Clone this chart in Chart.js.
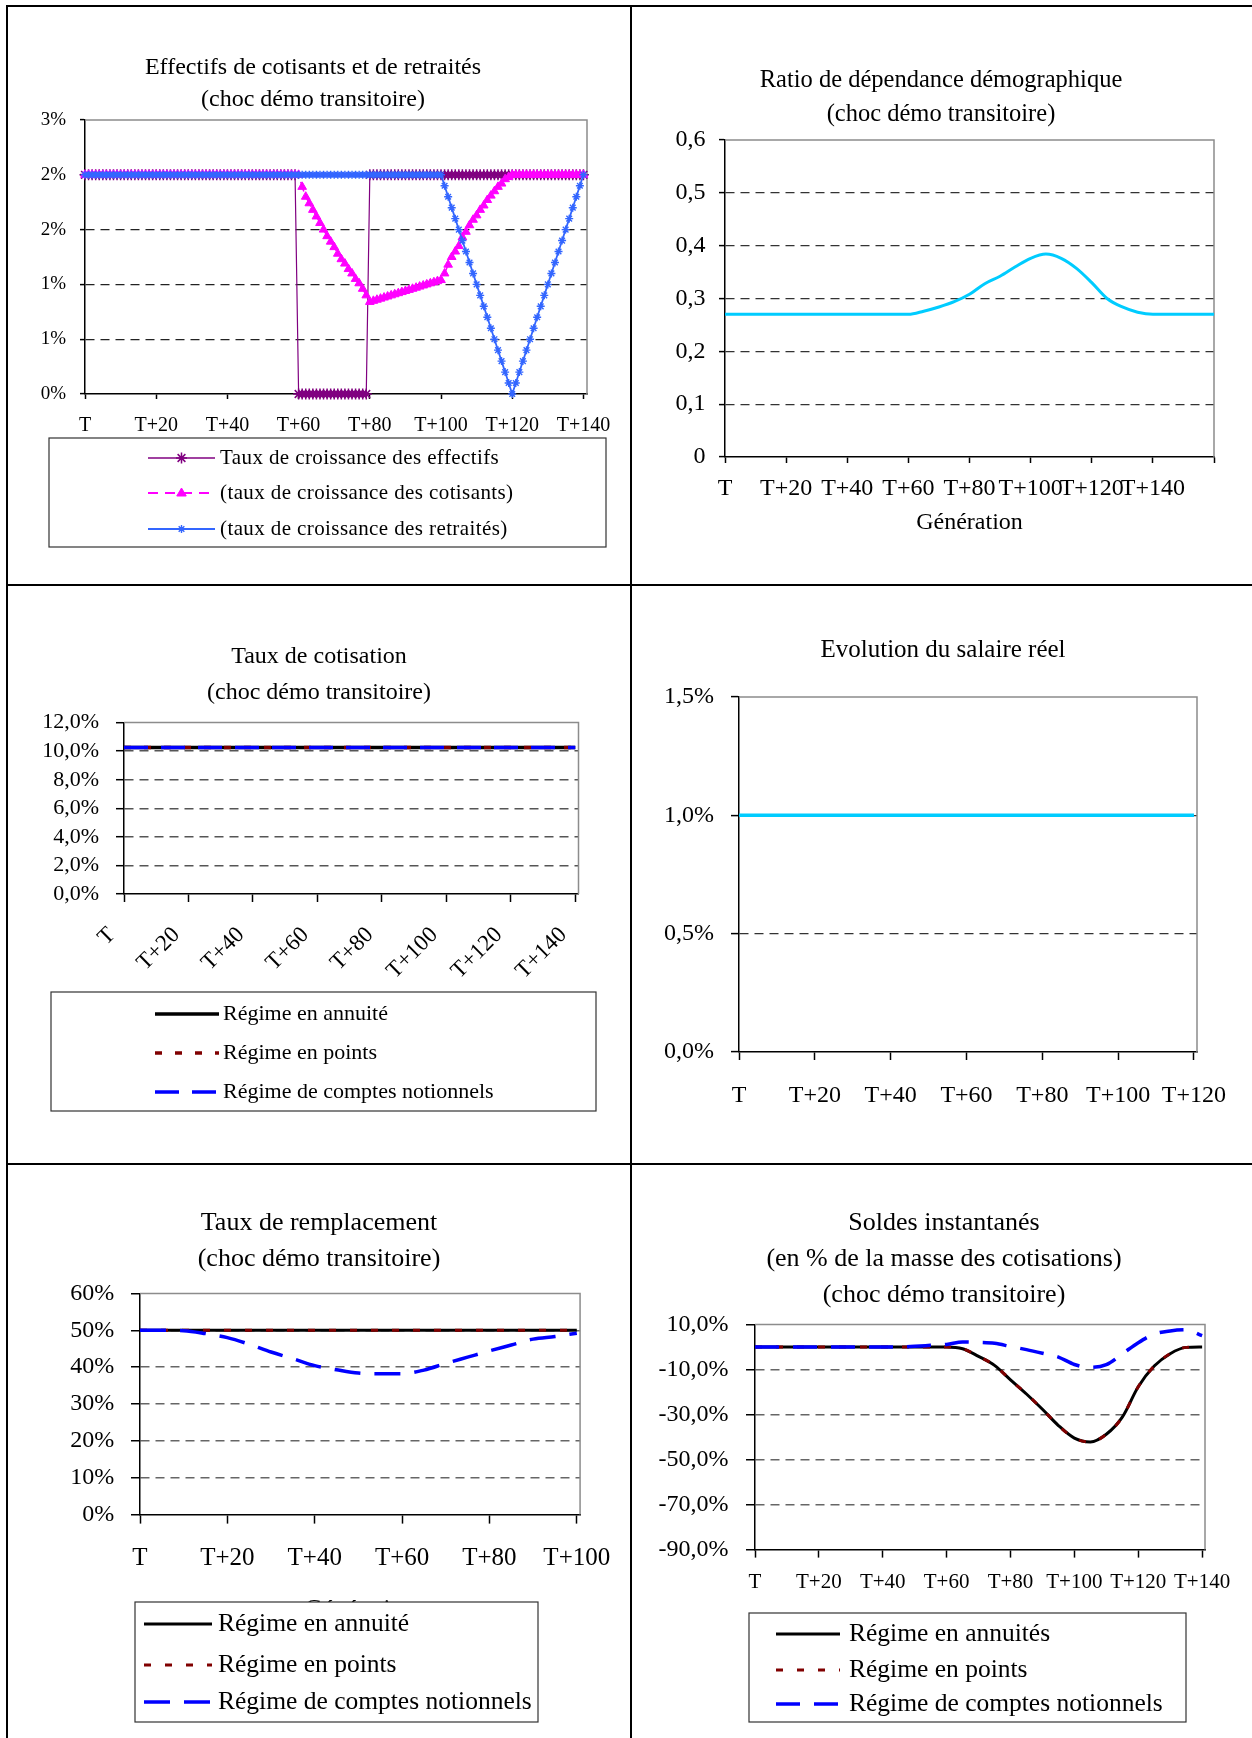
<!DOCTYPE html>
<html lang="fr">
<head>
<meta charset="utf-8">
<title>Choc démographique transitoire</title>
<script src="https://cdn.jsdelivr.net/npm/chart.js@4.4.1/dist/chart.umd.min.js"></script>
<style>
  html, body { margin: 0; padding: 0; background: #fff; }
  #page { position: relative; width: 1252px; height: 1738px; overflow: hidden; background: #fff; }
  .rule { position: absolute; background: #000; }
  canvas { position: absolute; }
</style>
</head>
<body>
<div id="page">
  <div class="rule" style="left:6px;top:5px;width:1246px;height:2px"></div>
  <div class="rule" style="left:6px;top:5px;width:2px;height:1733px"></div>
  <div class="rule" style="left:630px;top:5px;width:2px;height:1733px"></div>
  <div class="rule" style="left:6px;top:584px;width:1246px;height:2px"></div>
  <div class="rule" style="left:6px;top:1163px;width:1246px;height:2px"></div>
  <canvas id="effectifsChart" width="622" height="577" style="left:8px;top:7px"></canvas>
  <canvas id="ratioChart" width="620" height="577" style="left:632px;top:7px"></canvas>
  <canvas id="cotisationChart" width="622" height="577" style="left:8px;top:586px"></canvas>
  <canvas id="salaireChart" width="620" height="577" style="left:632px;top:586px"></canvas>
  <canvas id="remplacementChart" width="622" height="573" style="left:8px;top:1165px"></canvas>
  <canvas id="soldesChart" width="620" height="573" style="left:632px;top:1165px"></canvas>
</div>
<script>
// ---- data ----

// Effectifs : one value per generation, T .. T+140 (en %)
const effectifs = [
  2, 2, 2, 2, 2, 2, 2, 2, 2, 2, 2, 2, 2, 2, 2, 2, 2, 2, 2, 2,
  2, 2, 2, 2, 2, 2, 2, 2, 2, 2, 2, 2, 2, 2, 2, 2, 2, 2, 2, 2,
  2, 2, 2, 2, 2, 2, 2, 2, 2, 2, 2, 2, 2, 2, 2, 2, 2, 2, 2, 2,
  0, 0, 0, 0, 0, 0, 0, 0, 0, 0, 0, 0, 0, 0, 0, 0, 0, 0, 0, 0,
  2, 2, 2, 2, 2, 2, 2, 2, 2, 2, 2, 2, 2, 2, 2, 2, 2, 2, 2, 2,
  2, 2, 2, 2, 2, 2, 2, 2, 2, 2, 2, 2, 2, 2, 2, 2, 2, 2, 2, 2,
  2, 2, 2, 2, 2, 2, 2, 2, 2, 2, 2, 2, 2, 2, 2, 2, 2, 2, 2, 2,
  2
];
const cotisants = [
  2, 2, 2, 2, 2, 2, 2, 2, 2, 2, 2, 2, 2, 2, 2, 2, 2, 2, 2, 2,
  2, 2, 2, 2, 2, 2, 2, 2, 2, 2, 2, 2, 2, 2, 2, 2, 2, 2, 2, 2,
  2, 2, 2, 2, 2, 2, 2, 2, 2, 2, 2, 2, 2, 2, 2, 2, 2, 2, 2, 2,
  2, 1.89, 1.80, 1.74, 1.68, 1.62, 1.56, 1.50, 1.44, 1.39, 1.34, 1.28, 1.23, 1.19, 1.14, 1.10, 1.05, 1.01, 0.96, 0.90,
  0.84, 0.85, 0.86, 0.87, 0.88, 0.89, 0.90, 0.91, 0.92, 0.93, 0.94, 0.95, 0.96, 0.97, 0.98, 0.99, 1.00, 1.01, 1.02, 1.03,
  1.04, 1.10, 1.18, 1.25, 1.30, 1.35, 1.43, 1.48, 1.54, 1.59, 1.63, 1.68, 1.72, 1.77, 1.81, 1.85, 1.89, 1.92, 1.96, 1.98,
  2, 2, 2, 2, 2, 2, 2, 2, 2, 2, 2, 2, 2, 2, 2, 2, 2, 2, 2, 2,
  2
];
const retraites = [
  2, 2, 2, 2, 2, 2, 2, 2, 2, 2, 2, 2, 2, 2, 2, 2, 2, 2, 2, 2,
  2, 2, 2, 2, 2, 2, 2, 2, 2, 2, 2, 2, 2, 2, 2, 2, 2, 2, 2, 2,
  2, 2, 2, 2, 2, 2, 2, 2, 2, 2, 2, 2, 2, 2, 2, 2, 2, 2, 2, 2,
  2, 2, 2, 2, 2, 2, 2, 2, 2, 2, 2, 2, 2, 2, 2, 2, 2, 2, 2, 2,
  2, 2, 2, 2, 2, 2, 2, 2, 2, 2, 2, 2, 2, 2, 2, 2, 2, 2, 2, 2,
  2, 1.9, 1.8, 1.7, 1.6, 1.5, 1.4, 1.3, 1.2, 1.1, 1.0, 0.9, 0.8, 0.7, 0.6, 0.5, 0.4, 0.3, 0.2, 0.1,
  0, 0.1, 0.2, 0.3, 0.4, 0.5, 0.6, 0.7, 0.8, 0.9, 1.0, 1.1, 1.2, 1.3, 1.4, 1.5, 1.6, 1.7, 1.8, 1.9,
  2
];
const gen1 = effectifs.map((v, i) => i);
const xLabels140 = ['T', 'T+20', 'T+40', 'T+60', 'T+80', 'T+100', 'T+120', 'T+140'];
const yLabels1 = ['0%', '1%', '1%', '2%', '2%', '3%'];

// Ratio de dépendance
const gen2 = [0, 5, 10, 15, 20, 25, 30, 35, 40, 45, 50, 55, 60, 65, 70, 75, 80, 85, 90, 95, 100,
  105, 110, 115, 120, 125, 130, 135, 140, 145, 150, 155, 160];
const ratioDep = [0.27, 0.27, 0.27, 0.27, 0.27, 0.27, 0.27, 0.27, 0.27, 0.27, 0.27, 0.27, 0.27,
  0.276, 0.284, 0.294, 0.308, 0.328, 0.342, 0.360, 0.376, 0.384, 0.376, 0.357, 0.330, 0.300,
  0.284, 0.274, 0.270, 0.27, 0.27, 0.27, 0.27];
const xLabels2 = ['T', 'T+20', 'T+40', 'T+60', 'T+80', 'T+100', 'T+120', 'T+140', ''];
const yLabels2 = ['0', '0,1', '0,2', '0,3', '0,4', '0,5', '0,6'];

// Taux de cotisation (en %)
const gen3 = [0, 20, 40, 60, 80, 100, 120, 140];
const cotAnnuite = [10.25, 10.25, 10.25, 10.25, 10.25, 10.25, 10.25, 10.25];
const cotPoints = [10.25, 10.25, 10.25, 10.25, 10.25, 10.25, 10.25, 10.25];
const cotNotionnels = [10.25, 10.25, 10.25, 10.25, 10.25, 10.25, 10.25, 10.25];
const yLabels3 = ['0,0%', '2,0%', '4,0%', '6,0%', '8,0%', '10,0%', '12,0%'];

// Evolution du salaire réel (en %)
const gen4 = [0, 20, 40, 60, 80, 100, 120];
const salaireReel = [1, 1, 1, 1, 1, 1, 1];
const xLabels4 = ['T', 'T+20', 'T+40', 'T+60', 'T+80', 'T+100', 'T+120'];
const yLabels4 = ['0,0%', '0,5%', '1,0%', '1,5%'];

// Taux de remplacement (en %)
const gen5 = [0, 5, 10, 15, 20, 25, 30, 35, 40, 45, 50, 55, 60, 65, 70, 75, 80, 85, 90, 95, 100];
const rempAnnuite = [50, 50, 50, 50, 50, 50, 50, 50, 50, 50, 50, 50, 50, 50, 50, 50, 50, 50, 50, 50, 50];
const rempPoints = [50, 50, 50, 50, 50, 50, 50, 50, 50, 50, 50, 50, 50, 50, 50, 50, 50, 50, 50, 50, 50];
const rempNotionnels = [50, 50, 49.9, 49.1, 48.0, 46.2, 44.1, 42.3, 40.4, 39.3, 38.4, 38.2, 38.2,
  39.2, 41.0, 42.7, 44.4, 46.0, 47.6, 48.3, 49.2];
const xLabels5 = ['T', 'T+20', 'T+40', 'T+60', 'T+80', 'T+100'];
const yLabels5 = ['0%', '10%', '20%', '30%', '40%', '50%', '60%'];

// Soldes instantanés (en % de la masse des cotisations)
const gen6 = [0, 5, 10, 15, 20, 25, 30, 35, 40, 45, 50, 55, 60, 65, 70, 75, 80, 85, 90, 95, 100,
  105, 110, 115, 120, 125, 130, 135, 140];
const soldeAnnuites = [0, 0, 0, 0, 0, 0, 0, 0, 0, 0, 0, 0, 0,
  -0.8, -4.2, -8.2, -14.6, -20.9, -27.7, -34.9, -40.5, -42.2, -38.8, -31.2, -17.7, -8.5, -3.0, -0.2, 0];
const soldePoints = [0, 0, 0, 0, 0, 0, 0, 0, 0, 0, 0, 0, 0,
  -0.8, -4.2, -8.2, -14.6, -20.9, -27.7, -34.9, -40.5, -42.2, -38.8, -31.2, -17.7, -8.5, -3.0, -0.2, 0];
const soldeNotionnels = [0, 0, 0, 0, 0, 0, 0, 0, 0, 0,
  0.3, 0.7, 1.1, 2.2, 2.0, 1.6, 0.2, -1.2, -2.8, -4.5, -7.8, -9.1, -7.9, -3.1, 1.9, 5.7, 7.1, 7.6, 5.0];
const yLabels6 = ['-90,0%', '-70,0%', '-50,0%', '-30,0%', '-10,0%', '10,0%'];

// ---- drawing ----

const FONT = "'Liberation Serif', 'Times New Roman', serif";
Chart.defaults.font.family = FONT;
Chart.defaults.color = '#000';

// titles, legend boxes: positions inside each canvas
const decor = {
  effectifsChart: {
    title: { lines: ['Effectifs de cotisants et de retraités', '(choc démo transitoire)'], x: 305, y: 61, gap: 32.2, size: 24 },
    legend: { x: 41, y: 431, w: 557, h: 109, rows: [451, 486, 522], x1: 140, x2: 207, textX: 212, size: 21, spacing: '0.4px' }
  },
  ratioChart: {
    title: { lines: ['Ratio de dépendance démographique', '(choc démo transitoire)'], x: 309, y: 74, gap: 33.7, size: 24.5 }
  },
  cotisationChart: {
    title: { lines: ['Taux de cotisation', '(choc démo transitoire)'], x: 311, y: 71, gap: 35.3, size: 24 },
    legend: { x: 43, y: 406, w: 545, h: 119, rows: [428, 467, 506], x1: 147, x2: 211, textX: 215, size: 22 }
  },
  salaireChart: {
    title: { lines: ['Evolution du salaire réel'], x: 311, y: 64, gap: 0, size: 25 }
  },
  remplacementChart: {
    title: { lines: ['Taux de remplacement', '(choc démo transitoire)'], x: 311, y: 58, gap: 36.1, size: 26 },
    legend: { x: 127, y: 437, w: 403, h: 120, rows: [459, 500, 537], x1: 136, x2: 204, textX: 210, size: 25.5 }
  },
  soldesChart: {
    title: { lines: ['Soldes instantanés', '(en % de la masse des cotisations)', '(choc démo transitoire)'], x: 312, y: 58, gap: 36.1, size: 26 },
    legend: { x: 117, y: 448, w: 437, h: 109, rows: [469, 505, 539], x1: 144, x2: 208, textX: 217, size: 25.5 }
  }
};

function drawMarker(ctx, style, r, x, y) {
  ctx.beginPath();
  if (style === 'triangle') {
    ctx.moveTo(x, y - r);
    ctx.lineTo(x + r * 0.95, y + r * 0.6);
    ctx.lineTo(x - r * 0.95, y + r * 0.6);
    ctx.closePath();
    ctx.fill();
    ctx.stroke();
  } else {
    for (let a = 0; a < 4; a++) {
      const t = a * Math.PI / 4;
      ctx.moveTo(x - r * Math.cos(t), y - r * Math.sin(t));
      ctx.lineTo(x + r * Math.cos(t), y + r * Math.sin(t));
    }
    ctx.stroke();
  }
}

const chartTitle = {
  id: 'chartTitle',
  afterDraw(chart) {
    const t = decor[chart.canvas.id].title;
    const ctx = chart.ctx;
    ctx.save();
    ctx.fillStyle = '#000';
    ctx.font = t.size + 'px ' + FONT;
    ctx.textAlign = 'center';
    ctx.textBaseline = 'middle';
    t.lines.forEach((line, i) => ctx.fillText(line, t.x, t.y + i * t.gap));
    ctx.restore();
  }
};

// grey top/right border of the plot area
const plotFrame = {
  id: 'plotFrame',
  beforeDatasetsDraw(chart) {
    const { ctx, chartArea: a } = chart;
    ctx.save();
    ctx.strokeStyle = '#8c8c8c';
    ctx.lineWidth = 1.5;
    ctx.beginPath();
    ctx.moveTo(a.left, a.top);
    ctx.lineTo(a.right, a.top);
    ctx.lineTo(a.right, a.bottom);
    ctx.stroke();
    ctx.restore();
  }
};

const boxLegend = {
  id: 'boxLegend',
  afterDraw(chart) {
    const lg = decor[chart.canvas.id].legend;
    if (!lg) return;
    const ctx = chart.ctx;
    ctx.save();
    ctx.fillStyle = '#fff';
    ctx.fillRect(lg.x, lg.y, lg.w, lg.h);
    ctx.strokeStyle = '#333';
    ctx.lineWidth = 1.2;
    ctx.strokeRect(lg.x, lg.y, lg.w, lg.h);
    chart.data.datasets.forEach((ds, i) => {
      const y = lg.rows[i];
      ctx.save();
      ctx.strokeStyle = ds.borderColor;
      ctx.lineWidth = ds.legendWidth || ds.borderWidth;
      ctx.setLineDash(ds.borderDash || []);
      ctx.beginPath();
      ctx.moveTo(lg.x1, y);
      ctx.lineTo(lg.x2, y);
      ctx.stroke();
      ctx.restore();
      if (ds.pointRadius > 0) {
        ctx.save();
        ctx.fillStyle = ds.pointBackgroundColor;
        ctx.strokeStyle = ds.pointBorderColor;
        ctx.lineWidth = ds.pointBorderWidth;
        drawMarker(ctx, ds.pointStyle, ds.pointRadius, (lg.x1 + lg.x2) / 2, y);
        ctx.restore();
      }
      ctx.save();
      if (lg.spacing) ctx.letterSpacing = lg.spacing;
      ctx.fillStyle = '#000';
      ctx.font = lg.size + 'px ' + FONT;
      ctx.textBaseline = 'middle';
      ctx.textAlign = 'left';
      ctx.fillText(ds.label, lg.textX, y);
      ctx.restore();
    });
    ctx.restore();
  }
};

function pts(xs, ys) {
  return ys.map((y, i) => ({ x: xs[i], y: y }));
}

function makeChart(id, cfg) {
  const g = cfg.geom;
  const xo = cfg.x, yo = cfg.y;
  return new Chart(document.getElementById(id), {
    type: 'line',
    data: { datasets: cfg.datasets },
    options: {
      responsive: false,
      animation: false,
      events: [],
      layout: { padding: { top: g.top, right: g.w - g.right, left: 0, bottom: 0 } },
      elements: { point: { radius: 0 }, line: { borderCapStyle: 'butt' } },
      plugins: { legend: { display: false }, tooltip: { enabled: false }, title: { display: false } },
      scales: {
        x: {
          type: 'linear',
          min: 0,
          max: xo.max,
          afterFit: s => { s.height = g.h - g.bottom; },
          grid: { drawOnChartArea: false, drawTicks: true, tickLength: xo.tl, tickColor: '#000', tickWidth: 1.5, tickBorderDash: [] },
          border: { color: '#000', width: 1.5 },
          ticks: {
            stepSize: 20,
            includeBounds: false,
            autoSkip: false,
            maxRotation: xo.rot || 0,
            minRotation: xo.rot || 0,
            padding: xo.pad,
            labelOffset: xo.labelOffset || 0,
            font: { size: xo.font },
            color: '#000',
            callback: (v, i) => xo.labels[i]
          },
          title: xo.title
            ? { display: true, text: xo.title.text, color: '#000', font: { size: xo.title.size }, padding: { top: 0, bottom: xo.title.bottom } }
            : { display: false }
        },
        y: {
          min: yo.min,
          max: yo.max,
          afterFit: s => { s.width = g.left; },
          grid: {
            color: c => (c.tick && (c.tick.value === yo.min || c.tick.value === yo.max)) ? 'rgba(0,0,0,0)' : yo.gridColor,
            lineWidth: yo.gridWidth,
            drawTicks: true,
            tickLength: yo.tl,
            tickColor: '#000',
            tickWidth: 1.5,
            tickBorderDash: []
          },
          border: { color: '#000', width: 1.5, dash: [9, 6] },
          ticks: {
            stepSize: yo.step,
            autoSkip: false,
            padding: yo.pad,
            font: { size: yo.font },
            color: '#000',
            callback: (v, i) => yo.labels[i]
          }
        }
      }
    },
    plugins: [plotFrame, chartTitle, boxLegend]
  });
}

// 1. Effectifs de cotisants et de retraités
makeChart('effectifsChart', {
  geom: { left: 77, right: 579, top: 113, bottom: 387, w: 622, h: 577 },
  datasets: [
    {
      label: 'Taux de croissance des effectifs',
      data: pts(gen1, effectifs),
      borderColor: '#800080', borderWidth: 1.2, legendWidth: 1.6,
      pointStyle: 'star', pointRadius: 5.5, pointBorderWidth: 1.5,
      pointBorderColor: '#800080', pointBackgroundColor: '#800080',
      tension: 0, clip: false, order: 3
    },
    {
      label: '(taux de croissance des cotisants)',
      data: pts(gen1, cotisants),
      borderColor: '#ff00ff', borderWidth: 1.5, legendWidth: 2, borderDash: [10, 7],
      pointStyle: 'triangle', pointRadius: 5, pointBorderWidth: 1,
      pointBorderColor: '#ff00ff', pointBackgroundColor: '#ff00ff',
      tension: 0, clip: false, order: 2
    },
    {
      label: '(taux de croissance des retraités)',
      data: pts(gen1, retraites),
      borderColor: '#3366ff', borderWidth: 1.8, legendWidth: 2,
      pointStyle: 'star', pointRadius: 4, pointBorderWidth: 1.4,
      pointBorderColor: '#3366ff', pointBackgroundColor: '#3366ff',
      tension: 0, clip: false, order: 1
    }
  ],
  x: { max: 141, labels: xLabels140, font: 20, tl: 5, pad: 15 },
  y: { min: 0, max: 2.5, step: 0.5, labels: yLabels1, font: 19, tl: 5, pad: 14, gridColor: '#222', gridWidth: 1.2 }
});

// 2. Ratio de dépendance démographique
makeChart('ratioChart', {
  geom: { left: 93, right: 582, top: 133, bottom: 450, w: 620, h: 577 },
  datasets: [
    {
      label: 'Ratio de dépendance démographique',
      data: pts(gen2, ratioDep),
      borderColor: '#00ccff', borderWidth: 3, pointRadius: 0,
      cubicInterpolationMode: 'monotone'
    }
  ],
  x: { max: 160, labels: xLabels2, font: 24, tl: 6, pad: 11.6, title: { text: 'Génération', size: 24, bottom: 46.6 } },
  y: { min: 0, max: 0.6, step: 0.1, labels: yLabels2, font: 24, tl: 6, pad: 13.5, gridColor: '#333', gridWidth: 1.2 }
});

// 3. Taux de cotisation
makeChart('cotisationChart', {
  geom: { left: 116, right: 570.5, top: 136.6, bottom: 308, w: 622, h: 577 },
  datasets: [
    { label: 'Régime en annuité', data: pts(gen3, cotAnnuite), borderColor: '#000000', borderWidth: 3.5, pointRadius: 0, order: 3 },
    { label: 'Régime en points', data: pts(gen3, cotPoints), borderColor: '#800000', borderWidth: 3.5, borderDash: [7, 13], pointRadius: 0, order: 2 },
    { label: 'Régime de comptes notionnels', data: pts(gen3, cotNotionnels), borderColor: '#0000ff', borderWidth: 3.5, borderDash: [24, 13], pointRadius: 0, order: 1 }
  ],
  x: { max: 141, labels: xLabels140, font: 23, tl: 8, pad: 19.7, rot: 45, labelOffset: -12 },
  y: { min: 0, max: 12, step: 2, labels: yLabels3, font: 22, tl: 8, pad: 17, gridColor: '#555', gridWidth: 1.4 }
});

// 4. Evolution du salaire réel
makeChart('salaireChart', {
  geom: { left: 107, right: 565, top: 111, bottom: 466, w: 620, h: 577 },
  datasets: [
    { label: 'Evolution du salaire réel', data: pts(gen4, salaireReel), borderColor: '#00ccff', borderWidth: 3.5, pointRadius: 0 }
  ],
  x: { max: 120.8, labels: xLabels4, font: 24, tl: 8, pad: 21 },
  y: { min: 0, max: 1.5, step: 0.5, labels: yLabels4, font: 24, tl: 8, pad: 17, gridColor: '#333', gridWidth: 1.2 }
});

// 5. Taux de remplacement
makeChart('remplacementChart', {
  geom: { left: 132, right: 572.6, top: 128.4, bottom: 349.6, w: 622, h: 573 },
  datasets: [
    { label: 'Régime en annuité', data: pts(gen5, rempAnnuite), borderColor: '#000000', borderWidth: 3, pointRadius: 0, order: 3 },
    { label: 'Régime en points', data: pts(gen5, rempPoints), borderColor: '#800000', borderWidth: 3, borderDash: [7, 14], pointRadius: 0, order: 2 },
    { label: 'Régime de comptes notionnels', data: pts(gen5, rempNotionnels), borderColor: '#0000ff', borderWidth: 3.5, borderDash: [26, 14], pointRadius: 0, cubicInterpolationMode: 'monotone', order: 1 }
  ],
  x: { max: 100.75, labels: xLabels5, font: 25, tl: 9, pad: 19.4, title: { text: 'Génération', size: 25, bottom: 113 } },
  y: { min: 0, max: 60, step: 10, labels: yLabels5, font: 24, tl: 9, pad: 16.7, gridColor: '#666', gridWidth: 1.5 }
});

// 6. Soldes instantanés
makeChart('soldesChart', {
  geom: { left: 123, right: 573, top: 159.4, bottom: 384.6, w: 620, h: 573 },
  datasets: [
    { label: 'Régime en annuités', data: pts(gen6, soldeAnnuites), borderColor: '#000000', borderWidth: 3, pointRadius: 0, cubicInterpolationMode: 'monotone', order: 3 },
    { label: 'Régime en points', data: pts(gen6, soldePoints), borderColor: '#800000', borderWidth: 3, borderDash: [7, 14], pointRadius: 0, cubicInterpolationMode: 'monotone', order: 2 },
    { label: 'Régime de comptes notionnels', data: pts(gen6, soldeNotionnels), borderColor: '#0000ff', borderWidth: 3.5, borderDash: [24, 14], pointRadius: 0, cubicInterpolationMode: 'monotone', order: 1 }
  ],
  x: { max: 140.9, labels: xLabels140, font: 21, tl: 8, pad: 11.8 },
  y: { min: -90, max: 10, step: 20, labels: yLabels6, font: 24, tl: 9, pad: 17.6, gridColor: '#666', gridWidth: 1.5 }
});
</script>
</body>
</html>
